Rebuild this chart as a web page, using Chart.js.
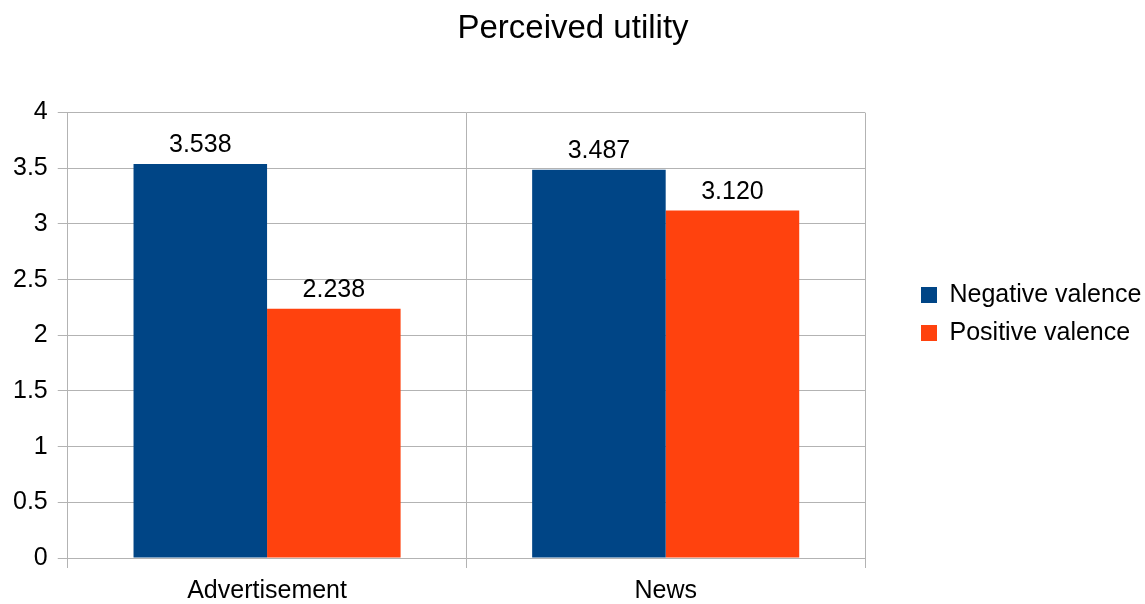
<!DOCTYPE html>
<html>
<head>
<meta charset="utf-8">
<script src="https://cdn.jsdelivr.net/npm/chart.js@4/dist/chart.umd.min.js"></script>
<style>
html, body { margin: 0; padding: 0; background: #fff; }
#wrap { width: 1145px; height: 604px; }
</style>
</head>
<body>
<div id="wrap"><canvas id="chart"></canvas></div>
<script>
const categories = ['Advertisement', 'News'];
const seriesNames = ['Negative valence', 'Positive valence'];
const negativeValues = [3.538, 3.487];
const positiveValues = [2.238, 3.120];
const seriesColors = ['#004586', '#ff420e'];

const FONT = '"Liberation Sans", Arial, sans-serif';
const GRID = '#b3b3b3';

// value labels above each bar
const barLabels = {
  id: 'barLabels',
  afterDatasetsDraw(chart) {
    const ctx = chart.ctx;
    ctx.save();
    ctx.font = '25px ' + FONT;
    ctx.fillStyle = '#000';
    ctx.textAlign = 'center';
    ctx.textBaseline = 'alphabetic';
    chart.data.datasets.forEach((ds, i) => {
      chart.getDatasetMeta(i).data.forEach((bar, j) => {
        ctx.fillText(ds.data[j].toFixed(3), bar.x, bar.y - 12);
      });
    });
    ctx.restore();
  }
};

new Chart(document.getElementById('chart'), {
  type: 'bar',
  data: {
    labels: categories,
    datasets: [
      { label: seriesNames[0], data: negativeValues, backgroundColor: seriesColors[0], borderWidth: 0 },
      { label: seriesNames[1], data: positiveValues, backgroundColor: seriesColors[1], borderWidth: 0 }
    ]
  },
  options: {
    responsive: true,
    maintainAspectRatio: false,
    animation: false,
    layout: { padding: { left: 3, right: 2, top: 0, bottom: -10 } },
    datasets: { bar: { categoryPercentage: 0.67, barPercentage: 1.0 } },
    plugins: {
      title: {
        display: true,
        text: 'Perceived utility',
        color: '#000',
        font: { family: FONT, size: 33, weight: 'normal' },
        padding: { top: 9, bottom: 64 }
      },
      legend: {
        position: 'right',
        maxWidth: 235,
        title: { display: true, text: ' ', font: { size: 10 }, padding: 1 },
        labels: {
          color: '#000',
          font: { family: FONT, size: 25 },
          boxWidth: 16,
          boxHeight: 16,
          padding: 13
        }
      },
      tooltip: { enabled: false }
    },
    scales: {
      x: {
        grid: { color: GRID, tickLength: 10, offset: true },
        border: { color: GRID },
        ticks: { color: '#000', font: { family: FONT, size: 25 }, padding: 8 }
      },
      y: {
        min: 0,
        max: 4,
        ticks: {
          stepSize: 0.5,
          color: '#000',
          font: { family: FONT, size: 25 },
          padding: 10,
          callback: v => String(v)
        },
        grid: { color: GRID, tickLength: 10 },
        border: { color: GRID }
      },
      gap: {
        position: 'right',
        display: true,
        grid: { display: false },
        border: { display: false },
        ticks: { display: false },
        afterFit(scale) { scale.width = 43; }
      }
    }
  },
  plugins: [barLabels]
});
</script>
</body>
</html>
